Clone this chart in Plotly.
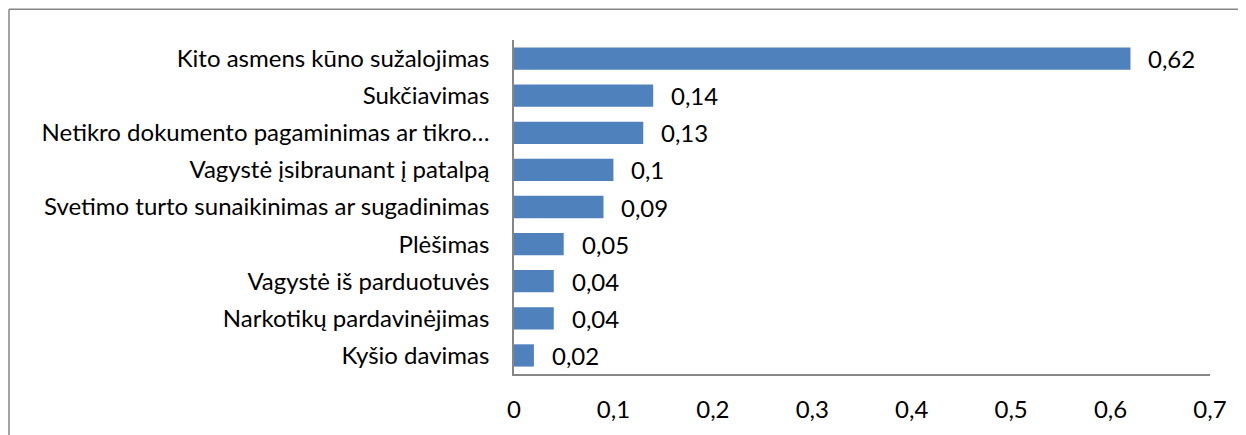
import plotly.graph_objects as go

categories = [
    "Kito asmens kūno sužalojimas",
    "Sukčiavimas",
    "Netikro dokumento pagaminimas ar tikro…",
    "Vagystė įsibraunant į patalpą",
    "Svetimo turto sunaikinimas ar sugadinimas",
    "Plėšimas",
    "Vagystė iš parduotuvės",
    "Narkotikų pardavinėjimas",
    "Kyšio davimas",
]
values = [0.62, 0.14, 0.13, 0.1, 0.09, 0.05, 0.04, 0.04, 0.02]
tick_vals = [0, 0.1, 0.2, 0.3, 0.4, 0.5, 0.6, 0.7]
tick_text = ["0", "0,1", "0,2", "0,3", "0,4", "0,5", "0,6", "0,7"]

FONT = "Lato, 'Open Sans', sans-serif"
FS = 24
# page body has an 8px margin; compensate so plot lands where the reference is
W, H = 1238, 427
ml, mr, mt, mb = 506, 36, 32, 59
pw, ph = W - ml - mr, H - mt - mb

fig = go.Figure(go.Bar(
    x=values, y=categories, orientation="h",
    marker=dict(color="#4F81BD", line=dict(width=0)),
    hoverinfo="skip",
))

for c, v in zip(categories, values):
    fig.add_annotation(
        x=v, y=c, xref="x", yref="y",
        text=f"{v:g}".replace(".", ","),
        showarrow=False, xanchor="left", xshift=16,
        font=dict(family=FONT, size=FS, color="#000000"),
    )

gray = "#868686"
# outer chart border (left and top)
lx = (1 - ml) / pw
ty = 1 + (mt - 1) / ph
fig.add_shape(type="line", xref="paper", yref="paper", x0=lx, x1=(W - ml) / pw + 0.1,
              y0=ty, y1=ty, line=dict(color=gray, width=1.5))
fig.add_shape(type="line", xref="paper", yref="paper", x0=lx, x1=lx,
              y0=ty, y1=-(mb + 10) / ph, line=dict(color=gray, width=1.5))

fig.update_layout(
    width=W, height=H,
    margin=dict(l=ml, r=mr, t=mt, b=mb, pad=0),
    paper_bgcolor="white", plot_bgcolor="white",
    bargap=0.4, showlegend=False,
    font=dict(family=FONT, size=FS, color="#000000"),
    xaxis=dict(range=[0, 0.7], tickvals=tick_vals, ticktext=tick_text,
               showgrid=False, zeroline=False, showline=True, linecolor=gray,
               linewidth=1.5, ticks="", ticklabelstandoff=13, fixedrange=True),
    yaxis=dict(autorange="reversed", showgrid=False, zeroline=False,
               showline=True, linecolor=gray, linewidth=1.5, ticks="",
               ticklabelstandoff=18, fixedrange=True),
)

fig.write_html("out.html")
